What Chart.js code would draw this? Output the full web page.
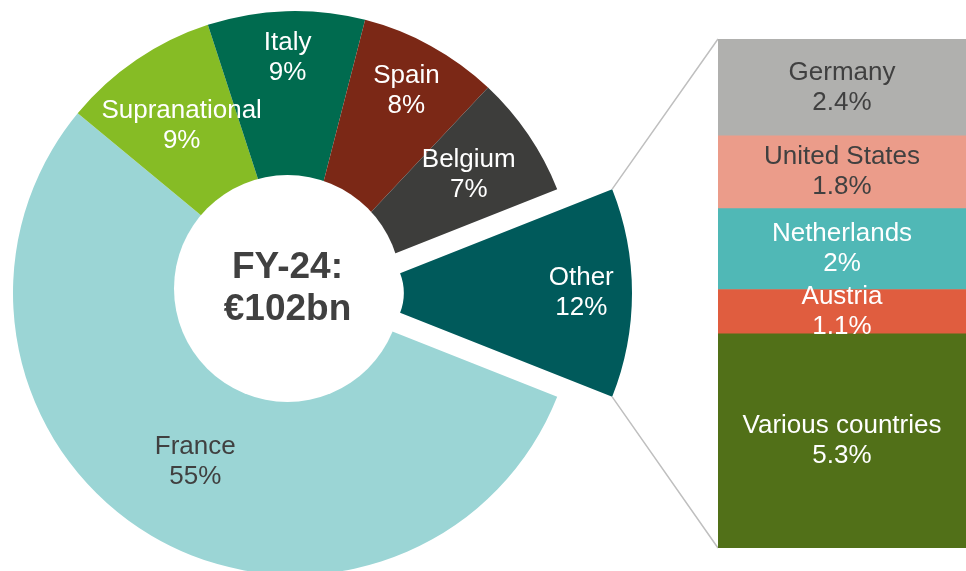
<!DOCTYPE html>
<html>
<head>
<meta charset="utf-8">
<title>FY-24 split by issuer</title>
<script src="https://cdn.jsdelivr.net/npm/chart.js@4.4.1/dist/chart.umd.min.js"></script>
<style>
  html, body { margin: 0; padding: 0; background: #ffffff; }
  #stage { position: relative; width: 966px; height: 571px; overflow: hidden; }
  #stage canvas { position: absolute; left: 0; top: 0; }
</style>
</head>
<body>
<div id="stage">
  <canvas id="ringChart" width="966" height="571"></canvas>
  <canvas id="otherChart" width="966" height="571"></canvas>
  <canvas id="breakdownChart" width="966" height="571"></canvas>
</div>
<script>
// Split of the FY-24 book (% of €102bn). "Other" comes first so it can sit at 3 o'clock
const regions = ['Other', 'France', 'Supranational', 'Italy', 'Spain', 'Belgium'];
const regionShares = [12, 55, 9, 9, 8, 7];

// What "Other" is made of, top of the bar to bottom
const otherCountries = ['Germany', 'United States', 'Netherlands', 'Austria', 'Various countries'];
const otherShares = [2.4, 1.8, 2, 1.1, 5.3];

const centreTitle = ['FY-24:', '€102bn'];

/* ---- look ---- */
const FONT = '"Liberation Sans", Arial, sans-serif';
const DARK_TEXT = '#404040';
const regionColors = ['#005A5B', '#9BD5D5', '#86BC25', '#006B4F', '#7B2816', '#3D3D3B'];
const regionTextColors = ['#ffffff', DARK_TEXT, '#ffffff', '#ffffff', '#ffffff', '#ffffff'];
const regionLabelDist = [0.82, 0.695, 0.715, 0.835, 0.82, 0.745]; // share of outer radius
const countryColors = ['#B0B0AE', '#EB9C8A', '#50B8B6', '#E05D3F', '#517018'];
const countryTextColors = [DARK_TEXT, DARK_TEXT, '#ffffff', '#ffffff', '#ffffff'];

const RING_RADIUS = 282;
const RING_CUTOUT = '19.1%';
// white disc with the total sits a touch up-left of the ring centre
const DISC = { dx: -7.5, dy: -4.5, r: 113.5 };

// centre the "Other" slice on the right-hand side
const rotation = 90 - regionShares[0] * 3.6 / 2;

// Two-line labels inside the doughnut slices
const sliceLabels = {
  id: 'sliceLabels',
  afterDatasetsDraw(chart, args, opts) {
    const ctx = chart.ctx;
    const arcs = chart.getDatasetMeta(0).data;
    ctx.save();
    ctx.font = `26px ${FONT}`;
    ctx.textAlign = 'center';
    ctx.textBaseline = 'middle';
    arcs.forEach((arc, i) => {
      if (!opts.include.includes(i)) return;
      const p = arc.getProps(['x', 'y', 'startAngle', 'endAngle', 'outerRadius'], true);
      const mid = (p.startAngle + p.endAngle) / 2;
      const r = p.outerRadius * regionLabelDist[i];
      const lx = p.x + Math.cos(mid) * r;
      const ly = p.y + Math.sin(mid) * r;
      ctx.fillStyle = regionTextColors[i];
      ctx.fillText(regions[i], lx, ly - 15);
      ctx.fillText(regionShares[i] + '%', lx, ly + 15);
    });
    ctx.restore();
  }
};

// White disc over the hole, with the total
const centreText = {
  id: 'centreText',
  afterDatasetsDraw(chart) {
    const arc = chart.getDatasetMeta(0).data[0];
    if (!arc) return;
    const cx = arc.x + DISC.dx;
    const cy = arc.y + DISC.dy;
    const ctx = chart.ctx;
    ctx.save();
    ctx.fillStyle = '#ffffff';
    ctx.beginPath();
    ctx.arc(cx, cy, DISC.r, 0, Math.PI * 2);
    ctx.fill();
    ctx.font = `bold 37px ${FONT}`;
    ctx.fillStyle = DARK_TEXT;
    ctx.textAlign = 'center';
    ctx.textBaseline = 'middle';
    ctx.fillText(centreTitle[0], cx, cy - 21);
    ctx.fillText(centreTitle[1], cx, cy + 21);
    ctx.restore();
  }
};

const ringChart = new Chart(document.getElementById('ringChart'), {
  type: 'doughnut',
  data: {
    labels: regions,
    datasets: [{
      data: regionShares,
      backgroundColor: regionColors.map((c, i) => i === 0 ? 'rgba(0,0,0,0)' : c),
      borderWidth: 0,
      clip: false
    }]
  },
  options: {
    responsive: false,
    animation: false,
    events: [],
    rotation: rotation,
    radius: RING_RADIUS,
    cutout: RING_CUTOUT,
    layout: { padding: { left: 0, right: 376, top: 15, bottom: 0 } },
    plugins: {
      legend: { display: false },
      tooltip: { enabled: false },
      sliceLabels: { include: [1, 2, 3, 4, 5] }
    }
  },
  plugins: [centreText, sliceLabels]
});

// The pulled-out "Other" slice: same ring, centre moved right
const otherChart = new Chart(document.getElementById('otherChart'), {
  type: 'doughnut',
  data: {
    labels: regions,
    datasets: [{
      data: regionShares,
      backgroundColor: regionColors.map((c, i) => i === 0 ? c : 'rgba(0,0,0,0)'),
      borderWidth: 0,
      clip: false
    }]
  },
  options: {
    responsive: false,
    animation: false,
    events: [],
    rotation: rotation,
    radius: RING_RADIUS,
    cutout: RING_CUTOUT,
    layout: { padding: { left: 0, right: 266, top: 15, bottom: 0 } },
    plugins: {
      legend: { display: false },
      tooltip: { enabled: false },
      sliceLabels: { include: [0] }
    }
  },
  plugins: [sliceLabels]
});

// Labels on the stacked bar
const barLabels = {
  id: 'barLabels',
  afterDatasetsDraw(chart) {
    const ctx = chart.ctx;
    ctx.save();
    ctx.font = `26px ${FONT}`;
    ctx.textAlign = 'center';
    ctx.textBaseline = 'middle';
    chart.data.datasets.forEach((ds, d) => {
      const bar = chart.getDatasetMeta(d).data[0];
      const k = ds.countryIndex;
      const cy = (bar.y + bar.base) / 2;
      ctx.fillStyle = countryTextColors[k];
      ctx.fillText(otherCountries[k], bar.x, cy - 15);
      ctx.fillText(otherShares[k] + '%', bar.x, cy + 15);
    });
    ctx.restore();
  }
};

// Grey lines from the "Other" slice to the bar
const connectors = {
  id: 'connectors',
  beforeDatasetsDraw(chart) {
    const arc = otherChart.getDatasetMeta(0).data[0];
    const bars = chart.data.datasets.map((ds, d) => chart.getDatasetMeta(d).data[0]);
    const bottomBar = bars[0];
    const topBar = bars[bars.length - 1];
    const left = bottomBar.x - bottomBar.width / 2;
    const ctx = chart.ctx;
    ctx.save();
    ctx.strokeStyle = '#BFBFBF';
    ctx.lineWidth = 1.5;
    ctx.beginPath();
    ctx.moveTo(arc.x + Math.cos(arc.startAngle) * arc.outerRadius, arc.y + Math.sin(arc.startAngle) * arc.outerRadius);
    ctx.lineTo(left, topBar.y);
    ctx.moveTo(arc.x + Math.cos(arc.endAngle) * arc.outerRadius, arc.y + Math.sin(arc.endAngle) * arc.outerRadius);
    ctx.lineTo(left, bottomBar.base);
    ctx.stroke();
    ctx.restore();
  }
};

const otherTotal = otherShares.reduce((a, b) => a + b, 0);

// bottom of the stack first
const barDatasets = otherCountries.map((name, i) => ({
  label: name,
  countryIndex: i,
  data: [otherShares[i]],
  backgroundColor: countryColors[i],
  borderWidth: 0,
  barPercentage: 1,
  categoryPercentage: 1
})).reverse();

const breakdownChart = new Chart(document.getElementById('breakdownChart'), {
  type: 'bar',
  data: { labels: ['Other'], datasets: barDatasets },
  options: {
    responsive: false,
    animation: false,
    events: [],
    layout: { padding: { left: 718, right: 0, top: 39, bottom: 23 } },
    scales: {
      x: { display: false, stacked: true },
      y: { display: false, stacked: true, min: 0, max: otherTotal }
    },
    plugins: {
      legend: { display: false },
      tooltip: { enabled: false }
    }
  },
  plugins: [connectors, barLabels]
});
</script>
</body>
</html>
